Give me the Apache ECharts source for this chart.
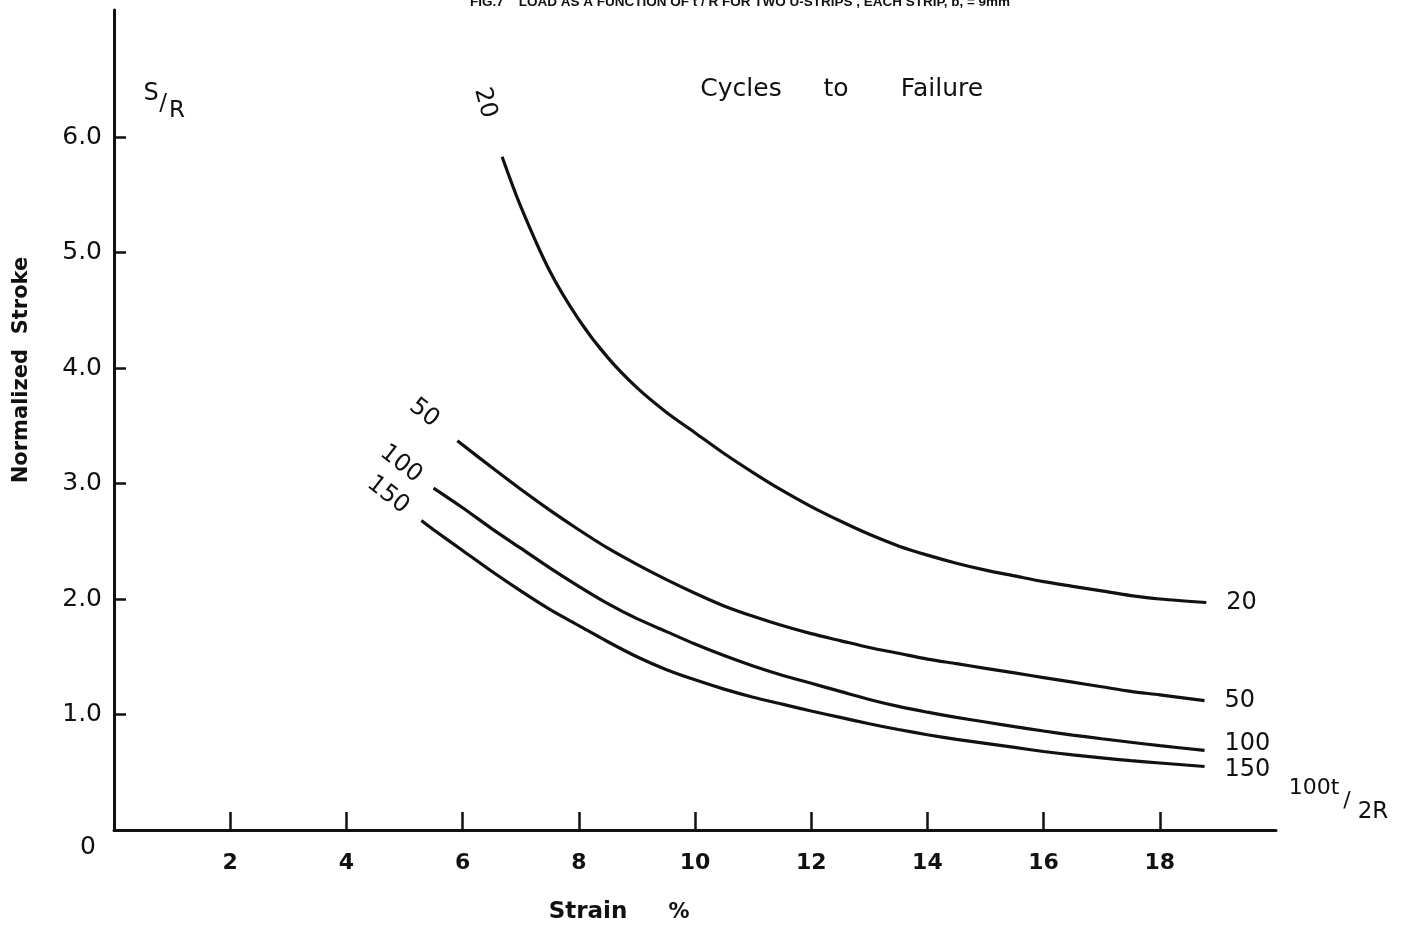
<!DOCTYPE html>
<html>
<head>
<meta charset="utf-8">
<script src="https://cdn.jsdelivr.net/npm/echarts@6/dist/echarts.min.js"></script>
<style>
html,body{margin:0;padding:0;background:#fff;}
#chart{width:1406px;height:925px;}
</style>
</head>
<body>
<div id="chart"></div>
<script>
// Strain % (x) vs Normalized Stroke S/R (y), by cycles to failure
const curve20 = [[6.68,5.83],[7.0,5.40],[7.5,4.84],[8.0,4.42],[8.5,4.09],[9.0,3.83],[9.5,3.62],[10.0,3.44],[10.5,3.26],[11.0,3.095],[11.5,2.94],[12.0,2.80],[12.5,2.675],[13.0,2.56],[13.5,2.46],[14.0,2.38],[14.5,2.31],[15.0,2.25],[15.5,2.20],[16.0,2.15],[16.5,2.11],[17.0,2.07],[17.5,2.03],[18.0,2.00],[18.8,1.97]];
const curve50 = [[5.91,3.37],[6.5,3.14],[7.0,2.95],[7.5,2.77],[8.0,2.60],[8.5,2.44],[9.0,2.30],[9.5,2.17],[10.0,2.05],[10.5,1.94],[11.0,1.85],[11.5,1.77],[12.0,1.70],[12.5,1.64],[13.0,1.58],[13.5,1.53],[14.0,1.48],[14.5,1.44],[15.0,1.40],[15.5,1.36],[16.0,1.32],[16.5,1.28],[17.0,1.24],[17.5,1.20],[18.0,1.17],[18.77,1.12]];
const curve100 = [[5.50,2.96],[6.0,2.79],[6.5,2.61],[7.0,2.44],[7.5,2.27],[8.0,2.11],[8.5,1.96],[9.0,1.83],[9.5,1.72],[10.0,1.61],[10.5,1.51],[11.0,1.42],[11.5,1.34],[12.0,1.27],[12.5,1.20],[13.0,1.13],[13.5,1.07],[14.0,1.02],[14.5,0.975],[15.0,0.935],[15.5,0.895],[16.0,0.857],[16.5,0.822],[17.0,0.79],[17.5,0.76],[18.0,0.73],[18.77,0.69]];
const curve150 = [[5.29,2.68],[5.5,2.60],[6.0,2.42],[6.5,2.24],[7.0,2.07],[7.5,1.91],[8.0,1.77],[8.5,1.63],[9.0,1.50],[9.5,1.39],[10.0,1.30],[10.5,1.22],[11.0,1.15],[11.5,1.09],[12.0,1.03],[12.5,0.975],[13.0,0.92],[13.5,0.87],[14.0,0.825],[14.5,0.785],[15.0,0.75],[15.5,0.715],[16.0,0.68],[16.5,0.65],[17.0,0.625],[17.5,0.60],[18.0,0.58],[18.77,0.55]];
const seriesNames = ['20','50','100','150'];
const xTicks = [2,4,6,8,10,12,14,16,18];
const yTicks = [1,2,3,4,5,6];

const FONT = 'DejaVu Sans';
const chart = echarts.init(document.getElementById('chart'), null, {renderer:'canvas'});
const curves = [curve20, curve50, curve100, curve150];
const endOffsets = [[0,0],[0,0],[0,-7],[0,3]];

function txt(text, x, y, size, opts) {
  opts = opts || {};
  return {
    type:'text', x:x, y:y, rotation: opts.rot || 0,
    style:{text:text, fill:'#111', font:(opts.weight||'normal')+' '+size+'px '+(opts.family||FONT),
      textAlign:opts.align||'center', textVerticalAlign:opts.valign||'middle'}
  };
}
const deg = Math.PI/180;

chart.setOption({
  backgroundColor:'#fff',
  animation:false,
  grid:{left:114, right:130, top:10, bottom:95, containLabel:false},
  xAxis:{
    type:'value', min:0, max:20, interval:2,
    axisLine:{show:true, onZero:false, lineStyle:{color:'#111', width:3}},
    axisTick:{show:true, inside:true, length:18, customValues:xTicks, lineStyle:{color:'#111', width:2.5}},
    axisLabel:{show:true, customValues:xTicks, margin:22, color:'#111', fontSize:22, fontWeight:'bold', fontFamily:FONT},
    splitLine:{show:false}
  },
  yAxis:{
    type:'value', min:0, max:7.1, interval:1,
    axisLine:{show:true, onZero:false, lineStyle:{color:'#111', width:3}},
    axisTick:{show:true, inside:true, length:12, customValues:yTicks, lineStyle:{color:'#111', width:2.5}},
    axisLabel:{show:true, customValues:yTicks, margin:12, color:'#111', fontSize:25, fontFamily:FONT,
      formatter:function(v){return v.toFixed(1);}},
    splitLine:{show:false}
  },
  series: curves.map(function(c,i){
    return {
      name:seriesNames[i], type:'line', data:c, smooth:0.3, showSymbol:false, symbol:'none',
      lineStyle:{color:'#111', width:3.2},
      endLabel:{show:true, formatter:'{a}', distance:20, offset:endOffsets[i], color:'#111', fontSize:24, fontFamily:FONT}
    };
  }),
  graphic:[
    txt('FIG.7    LOAD AS A FUNCTION OF t / R FOR TWO U-STRIPS , EACH STRIP, b, = 9mm', 740, 9, 13.5, {weight:'bold', family:'Liberation Sans', valign:'bottom'}),
    txt('Cycles', 741, 89, 25),
    txt('to', 836, 89, 25),
    txt('Failure', 942, 89, 25),
    txt('S', 151, 94, 24),
    txt('/', 163, 104, 23),
    txt('R', 177, 111, 23),
    txt('Normalized  Stroke', 22, 370, 21, {rot:90*deg, weight:'bold'}),
    txt('Strain', 588, 912, 23, {weight:'bold'}),
    txt('%', 679, 913, 21, {weight:'bold'}),
    txt('0', 88, 847, 25),
    txt('100t', 1314, 788, 22),
    txt('/', 1347, 801, 22),
    txt('2R', 1373, 812, 23),
    txt('20', 485, 103, 24, {rot:-75*deg}),
    txt('50', 424, 413, 24, {rot:-38*deg}),
    txt('100', 401, 464, 24, {rot:-38*deg}),
    txt('150', 388, 495, 24, {rot:-38*deg})
  ]
});
</script>
</body>
</html>
